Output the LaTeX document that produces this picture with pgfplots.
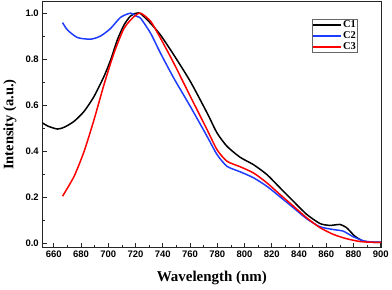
\documentclass[border=0pt]{standalone}
\usepackage{pgfplots}
\pgfplotsset{compat=1.18}
\usepackage{fontspec}
\setmainfont{Liberation Serif}
\newfontfamily\arialf{Liberation Sans}
\begin{document}
\begin{tikzpicture}
\begin{axis}[
  scale only axis,
  width=340pt, height=246.6pt,
  xmin=651.5, xmax=900.5, ymin=-0.02, ymax=1.05,
  xtick={660,680,...,900},
  ytick={0,0.2,...,1.0},
  minor x tick num=1, minor y tick num=1,
  tick pos=left, tick align=inside,
  major tick length=4.5pt, minor tick length=2.5pt,
  axis line style={line width=0.9pt, black!85},
  every tick/.style={line width=0.8pt, black!85},
  /pgf/number format/assume math mode=true,
  yticklabel style={/pgf/number format/fixed, /pgf/number format/fixed zerofill, /pgf/number format/precision=1},
  ticklabel style={font=\arialf\bfseries\fontsize{9.5}{11}\selectfont},
  xlabel={Wavelength (nm)}, ylabel={Intensity (a.u.)},
  every axis x label/.style={font=\bfseries\fontsize{15}{17}\selectfont, at={(axis description cs:0.5,0)}, anchor=base, yshift=-33.4pt},
  every axis y label/.style={font=\bfseries\fontsize{14.5}{17}\selectfont, at={(axis description cs:-0.0853,0.5)}, anchor=base, rotate=90},
  legend style={at={(0.794,0.929)}, anchor=north west, draw=black!60, line width=0.6pt,
    font=\bfseries\fontsize{10.5}{12}\selectfont, inner sep=0.3pt, row sep=0pt,
    nodes={inner xsep=1.5pt, inner ysep=1.2pt}, cells={anchor=west}},
  legend image code/.code={\draw[mark repeat=2,mark phase=2,#1] plot coordinates {(0pt,0pt) (14pt,0pt) (28pt,0pt)};},
  every axis plot/.append style={line width=1.5pt},
]
\coordinate (O) at (rel axis cs:0,0);
\addplot[black, smooth, tension=0.4] coordinates {
(651.5,0.523)(656,0.508)(662.7,0.496)(668,0.505)(674.9,0.530)(682.2,0.573)(689.5,0.638)(696.8,0.725)(701.7,0.797)(706.6,0.884)(711.5,0.949)(716.3,0.988)(720.5,1.0)(723.7,0.998)(731,0.956)(738.3,0.905)(748,0.819)(760.2,0.703)(772.5,0.566)(779.8,0.479)(787.1,0.421)(796.8,0.373)(806.6,0.341)(816.4,0.298)(826.1,0.240)(835.8,0.182)(845.6,0.125)(855.4,0.085)(862.7,0.077)(870,0.081)(874.9,0.067)(881,0.030)(887.1,0.009)(893,0.004)(900,0.003)};
\addlegendentry{C1}
\addplot[color={rgb,255:red,30;green,60;blue,255}, smooth, tension=0.4] coordinates {
(666.4,0.959)(670,0.927)(677.3,0.894)(687.1,0.887)(694.4,0.901)(701.7,0.934)(709,0.982)(716.3,1.0)(721.2,0.985)(723.7,0.978)(731,0.913)(738.3,0.826)(748,0.718)(760.2,0.594)(772.5,0.464)(779.8,0.385)(787.1,0.334)(796.8,0.310)(806.6,0.284)(816.4,0.247)(826.1,0.201)(835.8,0.154)(845.6,0.106)(855.4,0.071)(865.1,0.059)(872.4,0.052)(879.7,0.028)(887.1,0.010)(893,0.005)(900,0.004)};
\addlegendentry{C2}
\addplot[color=red, smooth, tension=0.4] coordinates {
(666.4,0.204)(674.9,0.291)(682.2,0.399)(689.5,0.537)(696.8,0.689)(704.1,0.826)(711.5,0.934)(718.8,0.985)(723.7,1.0)(731,0.965)(738.3,0.891)(748,0.783)(760.2,0.638)(772.5,0.493)(779.8,0.406)(787.1,0.356)(796.8,0.332)(806.6,0.305)(816.4,0.262)(826.1,0.211)(835.8,0.161)(845.6,0.110)(855.4,0.067)(865.1,0.038)(874.9,0.019)(884.6,0.007)(892,0.004)(900,0.003)};
\addlegendentry{C3}
\end{axis}
\path (O) ++(-41.7pt,-41.7pt) rectangle ++(392pt,290pt);
\end{tikzpicture}
\end{document}
